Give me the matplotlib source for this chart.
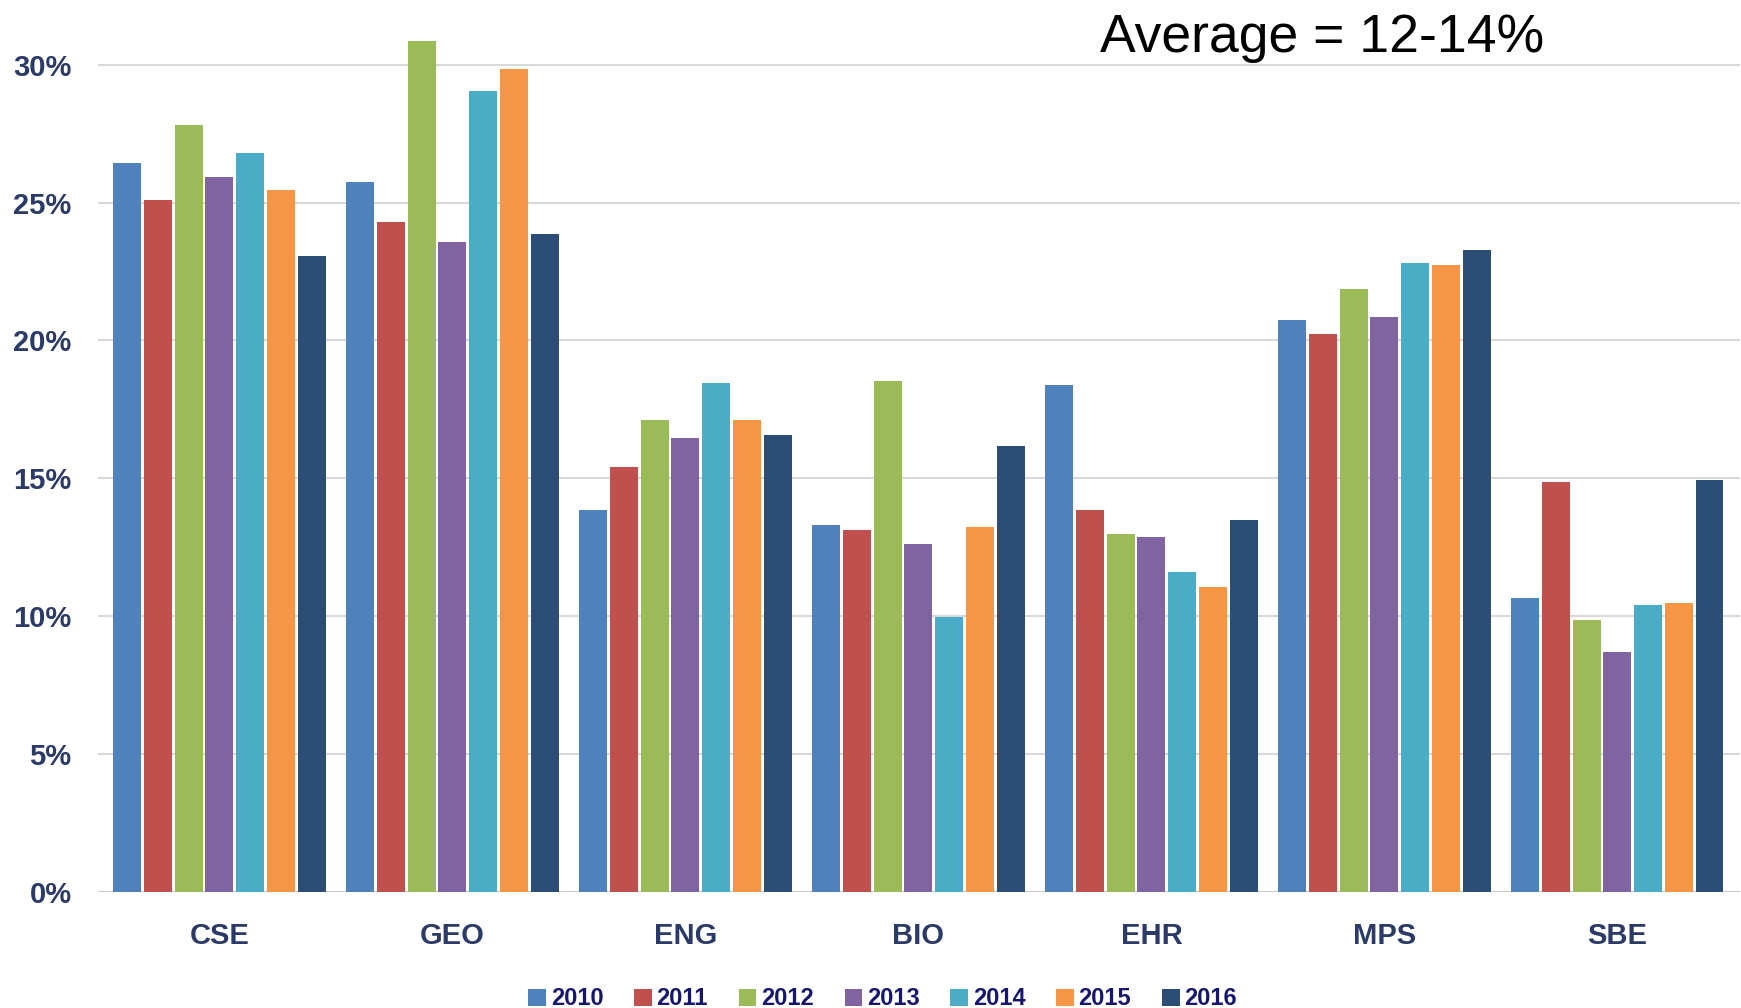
import numpy as np
import matplotlib
matplotlib.use("Agg")
import matplotlib.pyplot as plt
from matplotlib import font_manager

# share of proposals funded, by directorate and year
directorates = ["CSE", "GEO", "ENG", "BIO", "EHR", "MPS", "SBE"]
years = ["2010", "2011", "2012", "2013", "2014", "2015", "2016"]

rate_2010 = [26.45, 25.75, 13.85, 13.30, 18.40, 20.75, 10.65]
rate_2011 = [25.10, 24.30, 15.40, 13.12, 13.85, 20.22, 14.86]
rate_2012 = [27.80, 30.85, 17.10, 18.52, 12.96, 21.85, 9.86]
rate_2013 = [25.92, 23.58, 16.46, 12.60, 12.86, 20.85, 8.70]
rate_2014 = [26.80, 29.05, 18.44, 9.95, 11.60, 22.80, 10.39]
rate_2015 = [25.47, 29.85, 17.10, 13.22, 11.05, 22.75, 10.49]
rate_2016 = [23.05, 23.87, 16.56, 16.18, 13.48, 23.28, 14.94]

series = [rate_2010, rate_2011, rate_2012, rate_2013, rate_2014, rate_2015, rate_2016]
colors = ["#4F81BD", "#C0504D", "#9BBB59", "#8064A2", "#4BACC6", "#F79646", "#2C4D75"]

# pick a condensed face if one is around
names = {f.name for f in font_manager.fontManager.ttflist}
label_font = "Liberation Sans Narrow" if "Liberation Sans Narrow" in names else "Liberation Sans"

fig = plt.figure(figsize=(17.41, 10.08), dpi=100)
ax = fig.add_axes([0.0563, 0.1154, 0.9431, 0.875])

x = np.arange(len(directorates))
slot = 0.1318
for i, (vals, col) in enumerate(zip(series, colors)):
    offs = (i - 3) * slot
    ax.bar(x + offs, vals, width=slot * 0.91, color=col, label=years[i], zorder=3)

ax.set_xlim(-0.521, 6.526)
ax.set_ylim(0, 32)
ax.set_yticks(np.arange(0, 31, 5))
ax.set_yticklabels([f"{v}%" for v in range(0, 31, 5)])
ax.set_xticks(x)
ax.set_xticklabels(directorates)

for s in ax.spines.values():
    s.set_visible(False)
ax.grid(axis="y", color="#D9D9D9", linewidth=1.5, zorder=0)
ax.axhline(0, color="#C8C8C8", linewidth=2, zorder=2)

ax.tick_params(axis="both", length=0)
ax.tick_params(axis="y", pad=19)
ax.tick_params(axis="x", pad=22)
for lbl in ax.get_yticklabels() + ax.get_xticklabels():
    lbl.set_fontfamily([label_font, "DejaVu Sans"])
    lbl.set_fontweight("bold")
    lbl.set_fontsize(21)
    lbl.set_color("#2B3A67")

leg = fig.legend(loc="center", bbox_to_anchor=(0.507, 0.009), ncol=7, frameon=False,
                 handlelength=0.75, handleheight=0.75, handletextpad=0.2, columnspacing=1.3,
                 prop={"family": [label_font, "DejaVu Sans"], "weight": "bold", "size": 17})
for t in leg.get_texts():
    t.set_color("#16166E")

fig.text(0.7596, 0.962, "Average = 12-14%", ha="center", va="center",
         fontsize=38.5, family=["Liberation Sans", "DejaVu Sans"], color="black")

fig.savefig("out.png", dpi=100, facecolor="white")
